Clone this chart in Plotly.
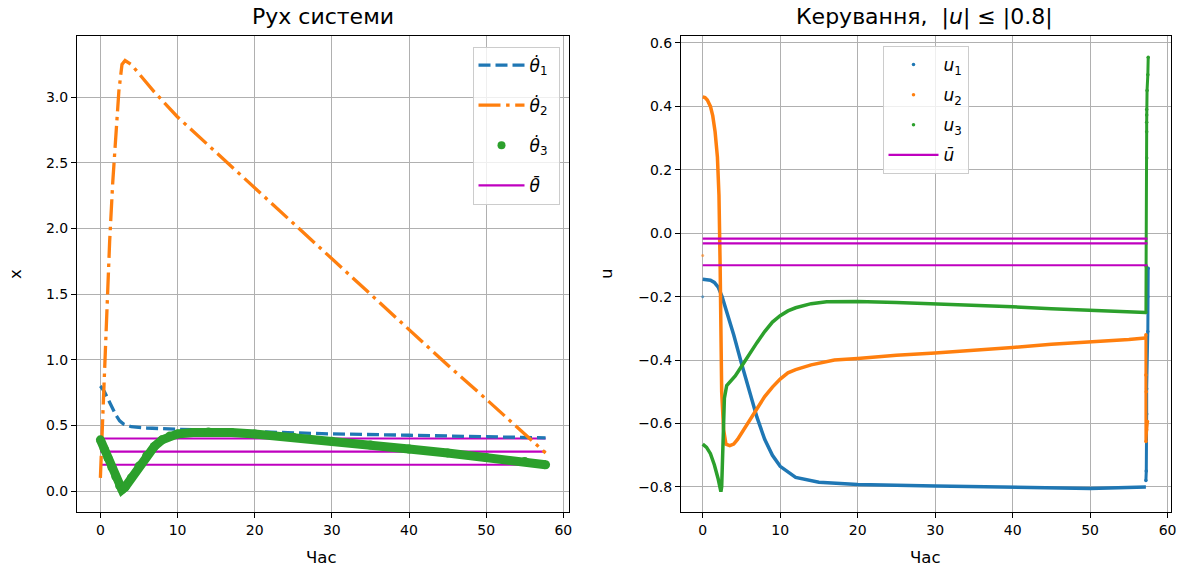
import plotly.graph_objects as go

# ---------------- Left panel: "Рух системи" ----------------
th1_t = [0, 0.5, 1.0, 1.5, 2.0, 2.5, 3.0, 4.0, 6.0, 10, 20, 30, 40, 50, 57.7]
th1_v = [0.80, 0.76, 0.70, 0.64, 0.58, 0.535, 0.51, 0.49, 0.48, 0.47, 0.45, 0.435, 0.425, 0.415, 0.405]

th2_t = [0, 0.2, 0.5, 0.8, 1.2, 1.6, 2.0, 2.4, 2.8, 3.2, 4.0, 7.0, 10, 15, 20, 25, 30, 35, 40, 45, 50, 55, 57.7]
th2_v = [0.10, 0.40, 0.90, 1.35, 1.90, 2.35, 2.72, 3.05, 3.25, 3.28, 3.25, 3.04, 2.85, 2.58, 2.31, 2.04, 1.77,
         1.50, 1.23, 0.96, 0.70, 0.43, 0.29]

th3_t = [0, 0.5, 1.0, 1.5, 2.0, 2.5, 2.8, 3.2, 4.0, 5.0, 6.0, 7.0, 8.0, 9.0, 10, 12, 14, 17, 20, 25, 30, 35, 40,
         45, 50, 55, 57.7]
th3_v = [0.39, 0.32, 0.25, 0.18, 0.11, 0.04, 0.01, 0.03, 0.10, 0.19, 0.27, 0.34, 0.39, 0.42, 0.435, 0.445, 0.45,
         0.445, 0.435, 0.41, 0.38, 0.35, 0.32, 0.29, 0.255, 0.225, 0.20]

thbar_levels = [0.4, 0.3, 0.2]
thbar_t = [0, 57.7]

# ---------------- Right panel: "Керування" ----------------
u1_t = [0, 1.0, 1.5, 2.0, 2.5, 3.0, 4.0, 5.0, 6.0, 7.0, 8.0, 9.0, 10, 12, 15, 20, 30, 40, 50, 57.2]
u1_v = [-0.145, -0.148, -0.155, -0.17, -0.20, -0.24, -0.32, -0.41, -0.50, -0.58, -0.65, -0.70, -0.735, -0.77,
        -0.785, -0.792, -0.797, -0.80, -0.805, -0.80]
u1_end_t = [57.2, 57.25, 57.3, 57.3, 57.45, 57.45, 57.5]
u1_end_v = [-0.78, -0.75, -0.57, -0.49, -0.31, -0.20, -0.11]
u1_extra_t = [0]
u1_extra_v = [-0.20]

u2_t = [0, 0.3, 0.6, 1.0, 1.3, 1.6, 1.9, 2.1, 2.25, 2.35, 2.45, 2.7, 3.0, 3.5, 4.0, 4.5, 5, 6, 7, 8, 9, 10, 11,
        12, 14, 17, 20, 25, 30, 35, 40, 45, 50, 55, 57.1]
u2_v = [0.43, 0.428, 0.42, 0.40, 0.37, 0.32, 0.24, 0.12, -0.10, -0.30, -0.50, -0.62, -0.665, -0.67, -0.665,
        -0.65, -0.63, -0.59, -0.55, -0.515, -0.485, -0.46, -0.44, -0.43, -0.415, -0.40, -0.395, -0.385, -0.378,
        -0.37, -0.36, -0.35, -0.343, -0.335, -0.33]
u2_end_t = [57.2, 57.2, 57.25, 57.2, 57.3, 57.4]
u2_end_v = [-0.32, -0.447, -0.50, -0.657, -0.62, -0.594]
u2_extra_t = [0]
u2_extra_v = [-0.07]

u3_t = [0, 0.5, 1.0, 1.5, 2.0, 2.35, 2.45, 2.55, 2.65, 2.8, 3.1, 3.6, 4.2, 5, 6, 7, 8, 9, 10, 11, 12, 14, 16,
        20, 25, 30, 35, 40, 45, 50, 55, 57.2]
u3_v = [-0.665, -0.675, -0.695, -0.73, -0.775, -0.815, -0.80, -0.70, -0.60, -0.52, -0.48, -0.465, -0.45, -0.42,
        -0.38, -0.345, -0.31, -0.28, -0.26, -0.245, -0.235, -0.222, -0.216, -0.215, -0.218, -0.222, -0.228,
        -0.232, -0.238, -0.242, -0.248, -0.25]
u3_end_t = [57.2, 57.25, 57.3, 57.3, 57.3, 57.3, 57.3, 57.35, 57.45, 57.5]
u3_end_v = [-0.25, -0.105, 0.237, 0.32, 0.35, 0.373, 0.39, 0.45, 0.50, 0.555]

ubar_levels = [-0.017, -0.032, -0.101]
ubar_t = [0, 57.4]

BLUE, ORANGE, GREEN, MAG = "#1f77b4", "#ff7f0e", "#2ca02c", "#bf00bf"
FONT = "DejaVu Sans"
PAD = "\u00a0"

fig = go.Figure()

# ---- left traces ----
for i, lv in enumerate(thbar_levels):
    fig.add_trace(go.Scatter(x=thbar_t, y=[lv, lv], mode="lines", line=dict(color=MAG, width=2.1),
                             name="<i>\u03b8\u0304</i>" + PAD, showlegend=(i == 0), legendgroup="g4",
                             legendrank=4, xaxis="x", yaxis="y", legend="legend"))
fig.add_trace(go.Scatter(x=th1_t, y=th1_v, mode="lines", line=dict(color=BLUE, width=3.3, dash="12px,5px"),
                         name="<i>\u03b8\u0307</i><sub>1</sub>" + PAD, legendgroup="g1", legendrank=1,
                         xaxis="x", yaxis="y", legend="legend"))
fig.add_trace(go.Scatter(x=th2_t, y=th2_v, mode="lines",
                         line=dict(color=ORANGE, width=3.3, dash="22px,5.6px,3.5px,5.6px"),
                         name="<i>\u03b8\u0307</i><sub>2</sub>" + PAD, legendgroup="g2", legendrank=2,
                         xaxis="x", yaxis="y", legend="legend"))
fig.add_trace(go.Scatter(x=th3_t, y=th3_v, mode="lines+markers", line=dict(color=GREEN, width=9),
                         marker=dict(color=GREEN, size=9), showlegend=False,
                         xaxis="x", yaxis="y"))
fig.add_trace(go.Scatter(x=[None], y=[None], mode="markers", marker=dict(color=GREEN, size=8),
                         name="<i>\u03b8\u0307</i><sub>3</sub>" + PAD, legendgroup="g3", legendrank=3,
                         xaxis="x", yaxis="y", legend="legend"))

# ---- right traces ----
for name, tt, vv, et, ev, xt, xv, col, g, rk in [
        ("<i>u</i><sub>1</sub>", u1_t, u1_v, u1_end_t, u1_end_v, u1_extra_t, u1_extra_v, BLUE, "h1", 1),
        ("<i>u</i><sub>2</sub>", u2_t, u2_v, u2_end_t, u2_end_v, u2_extra_t, u2_extra_v, ORANGE, "h2", 2),
        ("<i>u</i><sub>3</sub>", u3_t, u3_v, u3_end_t, u3_end_v, [], [], GREEN, "h3", 3)]:
    fig.add_trace(go.Scatter(x=tt, y=vv, mode="lines", line=dict(color=col, width=3.5), showlegend=False,
                             xaxis="x2", yaxis="y2"))
    fig.add_trace(go.Scatter(x=et, y=ev, mode="lines+markers", line=dict(color=col, width=3),
                             marker=dict(color=col, size=3.5), showlegend=False, xaxis="x2", yaxis="y2"))
    if xt:
        fig.add_trace(go.Scatter(x=xt, y=xv, mode="markers", marker=dict(color=col, size=3, opacity=0.6),
                                 showlegend=False, xaxis="x2", yaxis="y2"))
    fig.add_trace(go.Scatter(x=[None], y=[None], mode="markers", marker=dict(color=col, size=3.5),
                             name=name, legendgroup=g, legendrank=rk, xaxis="x2", yaxis="y2", legend="legend2"))
for i, lv in enumerate(ubar_levels):
    fig.add_trace(go.Scatter(x=ubar_t, y=[lv, lv], mode="lines", line=dict(color=MAG, width=2.1),
                             name="<i>\u016b</i>", showlegend=(i == 0), legendgroup="h4", legendrank=4,
                             xaxis="x2", yaxis="y2", legend="legend2"))

# ---- layout ----
L, R, T, B, W, H = 77, 17, 36, 57, 1188, 569
PW, PH = W - L - R, H - T - B


def px_x(p):
    return (p - L) / PW


def px_y(p):
    return (H - B - p) / PH


ax = dict(showline=True, linecolor="black", linewidth=1.1, mirror=True, ticks="outside", ticklen=5,
          tickwidth=1.1, tickcolor="black", showgrid=True, gridcolor="#b0b0b0", gridwidth=1.1, zeroline=False,
          tickfont=dict(family=FONT, size=14, color="black"))

fig.update_layout(
    width=W, height=H, margin=dict(l=L, r=R, t=T, b=B), plot_bgcolor="white", paper_bgcolor="white",
    font=dict(family=FONT, color="black"),
    xaxis=dict(ax, domain=[0, px_x(568.5)], range=[-3.03, 60.67], tickvals=[0, 10, 20, 30, 40, 50, 60],
               anchor="y"),
    yaxis=dict(ax, domain=[0, 1], range=[-0.16, 3.467], tickvals=[0, 0.5, 1, 1.5, 2, 2.5, 3],
               tickformat=".1f", anchor="x"),
    xaxis2=dict(ax, domain=[px_x(681), 1], range=[-2.8, 60.44], tickvals=[0, 10, 20, 30, 40, 50, 60],
                anchor="y2"),
    yaxis2=dict(ax, domain=[0, 1], range=[-0.879, 0.622], tickvals=[-0.8, -0.6, -0.4, -0.2, 0, 0.2, 0.4, 0.6],
                tickformat=".1f", anchor="x2"),
    legend=dict(x=px_x(559.5), y=px_y(46.5), xanchor="right", yanchor="top", bgcolor="rgba(255,255,255,0.8)",
                bordercolor="#cccccc", borderwidth=1, font=dict(family=FONT, size=17), tracegroupgap=15,
                itemwidth=46),
    legend2=dict(x=px_x(882.5), y=px_y(46), xanchor="left", yanchor="top", bgcolor="rgba(255,255,255,0.8)",
                 bordercolor="#cccccc", borderwidth=1, font=dict(family=FONT, size=17), tracegroupgap=5,
                 itemwidth=50),
    showlegend=True,
)

annots = [
    dict(text="Рух системи", x=px_x(322.5), y=px_y(17), size=22, angle=0),
    dict(text="Керування,\u00a0\u00a0|<i>u</i>| ≤ |0.8|", x=px_x(924), y=px_y(17), size=22, angle=0),
    dict(text="Час", x=px_x(321), y=px_y(557), size=16.5, angle=0),
    dict(text="Час", x=px_x(925), y=px_y(557), size=16.5, angle=0),
    dict(text="x", x=px_x(15), y=px_y(274), size=16.5, angle=-90),
    dict(text="u", x=px_x(606), y=px_y(274), size=16.5, angle=-90),
]
for a in annots:
    fig.add_annotation(text=a["text"], x=a["x"], y=a["y"], xref="paper", yref="paper", showarrow=False,
                       xanchor="center", yanchor="middle", textangle=a["angle"],
                       font=dict(family=FONT, size=a["size"], color="black"))

fig.write_html("out.html")
